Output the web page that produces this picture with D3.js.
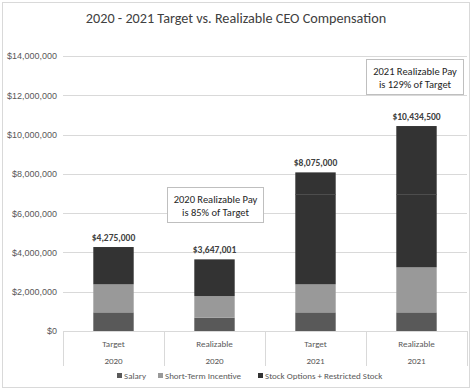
<!DOCTYPE html>
<html>
<head>
<meta charset="utf-8">
<script src="https://cdn.jsdelivr.net/npm/d3@7"></script>
<style>
  html, body { margin: 0; padding: 0; background: #fff; }
  svg { display: block; font-family: Carlito, Calibri, Lato, "Open Sans", sans-serif; }
</style>
</head>
<body>
<svg id="chart" width="472" height="390"></svg>
<script>
const title = "2020 - 2021 Target vs. Realizable CEO Compensation";
const categories = ["Target", "Realizable", "Target", "Realizable"];
const years = ["2020", "2020", "2021", "2021"];
const salary = [950000, 680000, 950000, 950000];
const shortTermIncentive = [1425000, 1100000, 1425000, 2290000];
const stockLower = [1900000, 1867001, 4585000, 3720000];
const stockUpper = [0, 0, 1115000, 3474500];
const totals = [4275000, 3647001, 8075000, 10434500];
const yTicks = [0, 2000000, 4000000, 6000000, 8000000, 10000000, 12000000, 14000000];
const legendLabels = ["Salary", "Short-Term Incentive", "Stock Options + Restricted Stock"];
const notes = [
  {bar: 1, lines: ["2020 Realizable Pay", "is 85% of Target"]},
  {bar: 3, lines: ["2021 Realizable Pay", "is 129% of Target"]}
];

const colors = {salary: "#595959", sti: "#999999", stock: "#333333"};
const svg = d3.select("#chart");
const m = {left: 63, right: 467, top: 56, bottom: 331};

// outer border
svg.append("rect").attr("x", 2.5).attr("y", 2.5).attr("width", 467).attr("height", 385)
  .attr("fill", "#fff").attr("stroke", "#d9d9d9").attr("stroke-width", 1);

// title
svg.append("text").attr("x", 236).attr("y", 23).attr("text-anchor", "middle")
  .attr("font-size", 14.2).attr("fill", "#404040").text(title);

const x = d3.scaleBand().domain(d3.range(categories.length)).range([m.left, m.right]).paddingInner(0).paddingOuter(0);
const y = d3.scaleLinear().domain([0, 14000000]).range([m.bottom, m.top]);
const bw = x.bandwidth() * 0.4;

// gridlines + y axis
const yAxis = d3.axisLeft(y).tickValues(yTicks).tickSize(0).tickPadding(6)
  .tickFormat(d => "$" + d3.format(",")(d));
const ga = svg.append("g").attr("transform", `translate(${m.left},0)`).call(yAxis);
ga.select(".domain").remove();
ga.selectAll("text").attr("font-size", 9).attr("fill", "#595959").attr("font-family", "inherit");
svg.append("g").selectAll("line").data(yTicks.filter(d => d > 0)).join("line")
  .attr("x1", m.left).attr("x2", m.right)
  .attr("y1", d => Math.round(y(d)) + 0.5).attr("y2", d => Math.round(y(d)) + 0.5)
  .attr("stroke", "#d9d9d9").attr("stroke-width", 1);

// stacked bars
const rows = categories.map((c, i) => ({i, salary: salary[i], sti: shortTermIncentive[i], lower: stockLower[i], upper: stockUpper[i]}));
const keys = ["salary", "sti", "lower", "upper"];
const fills = {salary: colors.salary, sti: colors.sti, lower: colors.stock, upper: colors.stock};
const stacked = d3.stack().keys(keys)(rows);
const gb = svg.append("g");
stacked.forEach(layer => {
  gb.selectAll(null).data(layer).join("rect")
    .attr("x", d => x(d.data.i) + (x.bandwidth() - bw) / 2)
    .attr("width", bw)
    .attr("y", d => y(d[1]))
    .attr("height", d => Math.max(0, y(d[0]) - y(d[1])))
    .attr("fill", fills[layer.key]);
});
// thin separator between the two stock components
const upperLayer = stacked.find(l => l.key === "upper");
gb.selectAll(null).data(upperLayer.filter(d => d[1] - d[0] > 0)).join("line")
  .attr("x1", d => x(d.data.i) + (x.bandwidth() - bw) / 2)
  .attr("x2", d => x(d.data.i) + (x.bandwidth() + bw) / 2)
  .attr("y1", d => Math.round(y(d[0])) + 0.5).attr("y2", d => Math.round(y(d[0])) + 0.5)
  .attr("stroke", "#4d4d4d").attr("stroke-width", 1);

// totals labels
svg.append("g").selectAll("text").data(totals).join("text")
  .attr("x", (d, i) => x(i) + x.bandwidth() / 2)
  .attr("y", d => y(d) - 6)
  .attr("text-anchor", "middle").attr("font-size", 9.5).attr("font-weight", "bold")
  .attr("fill", "#404040")
  .text(d => "$" + d3.format(",")(d));

// category axis
const gc = svg.append("g");
gc.append("line").attr("x1", m.left).attr("x2", m.right).attr("y1", m.bottom + 0.5).attr("y2", m.bottom + 0.5)
  .attr("stroke", "#d9d9d9");
const edges = d3.range(categories.length + 1).map(i => i < categories.length ? x(i) : m.right);
gc.selectAll(null).data(edges).join("line")
  .attr("x1", d => Math.round(d) + 0.5).attr("x2", d => Math.round(d) + 0.5)
  .attr("y1", m.bottom).attr("y2", 366)
  .attr("stroke", "#d9d9d9");
gc.selectAll(null).data(categories).join("text")
  .attr("x", (d, i) => x(i) + x.bandwidth() / 2).attr("y", 346.5)
  .attr("text-anchor", "middle").attr("font-size", 9).attr("fill", "#595959").text(d => d);
gc.selectAll(null).data(years).join("text")
  .attr("x", (d, i) => x(i) + x.bandwidth() / 2).attr("y", 363.5)
  .attr("text-anchor", "middle").attr("font-size", 9).attr("fill", "#595959").text(d => d);

// legend
const legendX = [117, 158, 258];
const legendColors = [colors.salary, colors.sti, colors.stock];
const gl = svg.append("g");
legendLabels.forEach((t, i) => {
  gl.append("rect").attr("x", legendX[i]).attr("y", 373).attr("width", 5).attr("height", 5).attr("fill", legendColors[i]);
  gl.append("text").attr("x", legendX[i] + 7).attr("y", 379).attr("font-size", 9).attr("fill", "#595959").text(t);
});

// annotation boxes
const boxes = [{x: 167, y: 187, w: 96, h: 35}, {x: 366, y: 59, w: 97, h: 35}];
notes.forEach((n, k) => {
  const b = boxes[k];
  const g = svg.append("g");
  g.append("rect").attr("x", b.x + 0.5).attr("y", b.y + 0.5).attr("width", b.w).attr("height", b.h)
    .attr("fill", "#fff").attr("stroke", "#bfbfbf");
  n.lines.forEach((l, j) => {
    g.append("text").attr("x", b.x + b.w / 2 + 0.5).attr("y", b.y + 16 + j * 12.5)
      .attr("text-anchor", "middle").attr("font-size", 10.5).attr("fill", "#262626").text(l);
  });
});
</script>
</body>
</html>
